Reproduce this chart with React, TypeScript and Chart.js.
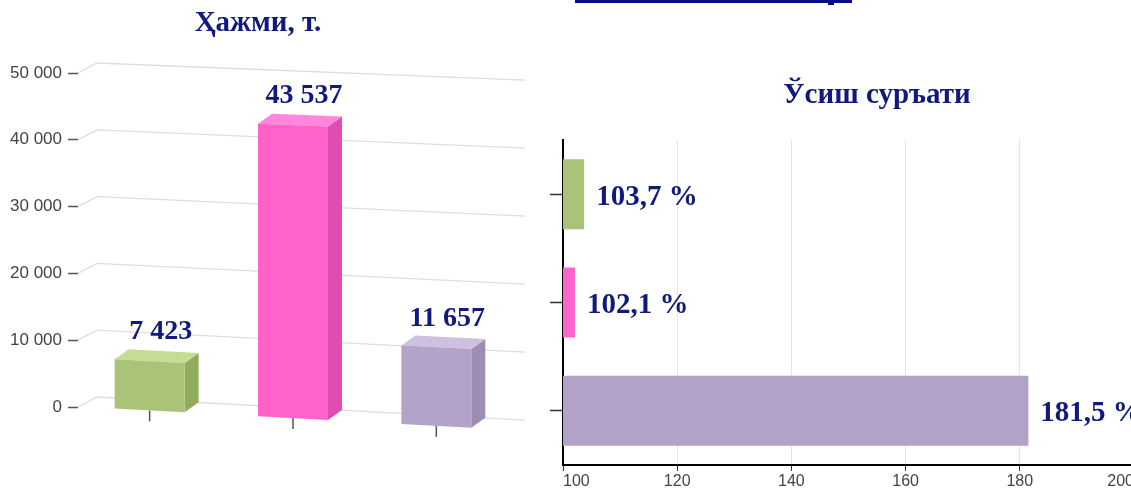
import React, { useEffect, useRef } from 'react';
import { Chart, registerables } from 'chart.js';

Chart.register(...registerables);

// ---------- data ----------
const categories = ['A', 'B', 'C'];
const volumes = [7423, 43537, 11657];
const growth = [103.7, 102.1, 181.5];
const volumeTickValues = [0, 10000, 20000, 30000, 40000, 50000];
const growthTickValues = [100, 120, 140, 160, 180, 200];
const leftTitle = 'Ҳажми, т.';
const rightTitle = 'Ўсиш суръати';

// ---------- styles ----------
const NAVY = '#101a7c';
const FRONT = ['#a9c477', '#ff63c9', '#b3a3c8'];
const TOP = ['#c4dc93', '#ff86da', '#ccc1e1'];
const SIDE = ['#90ac5d', '#e04cb2', '#9d8cb4'];
const FLAT = ['#a9c477', '#ff66cc', '#b2a2c7'];
const SERIF = '"Liberation Serif", "Times New Roman", serif';

const fmtThousands = (v: number) => String(v).replace(/\B(?=(\d{3})+(?!\d))/g, ' ');
const fmtPct = (v: number) => v.toFixed(1).replace('.', ',') + ' %';

const DX = 14;
const DY = -10;
const GDX = 19;
const slope = (v: number) => 0.054 - 0.014 * v / 50000;

const pseudo3d = {
  id: 'pseudo3d',
  beforeDatasetsDraw(chart: any) {
    const { ctx, chartArea, scales } = chart;
    const y = scales.y;
    ctx.save();
    ctx.strokeStyle = '#dedede';
    ctx.lineWidth = 1.3;
    y.ticks.forEach((t: any) => {
      const py = y.getPixelForValue(t.value);
      const s = slope(t.value);
      const x0 = chartArea.left;
      const x1 = x0 + GDX;
      const x2 = chartArea.right + 17;
      ctx.beginPath();
      ctx.moveTo(x0, py);
      ctx.lineTo(x1, py + DY);
      ctx.lineTo(x2, py + DY + s * (x2 - x1));
      ctx.stroke();
    });
    ctx.restore();
  },
  afterDatasetsDraw(chart: any) {
    const { ctx, chartArea } = chart;
    const left = chartArea.left;
    const meta = chart.getDatasetMeta(0);
    const data = chart.data.datasets[0].data as number[];
    ctx.save();
    meta.data.forEach((bar: any, i: number) => {
      const { x, y, base, width } = bar.getProps(['x', 'y', 'base', 'width'], true);
      const v = data[i];
      const sv = slope(v);
      const s0 = slope(0);
      const L = x - width / 2;
      const R = x + width / 2;
      const yTop = (xx: number) => y + sv * (xx - left);
      const yBot = (xx: number) => base + s0 * (xx - left);
      // tick mark below bar
      ctx.strokeStyle = '#555';
      ctx.lineWidth = 1.5;
      ctx.beginPath();
      ctx.moveTo(x, yBot(x));
      ctx.lineTo(x, yBot(x) + 11);
      ctx.stroke();
      // side
      ctx.fillStyle = SIDE[i];
      ctx.beginPath();
      ctx.moveTo(R, yTop(R));
      ctx.lineTo(R + DX, yTop(R) + DY);
      ctx.lineTo(R + DX, yBot(R) + DY);
      ctx.lineTo(R, yBot(R));
      ctx.closePath();
      ctx.fill();
      // top
      ctx.fillStyle = TOP[i];
      ctx.beginPath();
      ctx.moveTo(L, yTop(L));
      ctx.lineTo(L + DX, yTop(L) + DY);
      ctx.lineTo(R + DX, yTop(R) + DY);
      ctx.lineTo(R, yTop(R));
      ctx.closePath();
      ctx.fill();
      // front
      ctx.fillStyle = FRONT[i];
      ctx.beginPath();
      ctx.moveTo(L, yTop(L));
      ctx.lineTo(R, yTop(R));
      ctx.lineTo(R, yBot(R));
      ctx.lineTo(L, yBot(L));
      ctx.closePath();
      ctx.fill();
      // value label
      ctx.fillStyle = NAVY;
      ctx.font = 'bold 28px ' + SERIF;
      ctx.textAlign = 'center';
      ctx.textBaseline = 'middle';
      ctx.fillText(fmtThousands(v), x + 11, yTop(x) + DY - 19);
    });
    ctx.restore();
  },
  afterDraw(chart: any) {
    const { ctx } = chart;
    ctx.save();
    ctx.fillStyle = NAVY;
    ctx.font = 'bold 29px ' + SERIF;
    ctx.textAlign = 'center';
    ctx.textBaseline = 'middle';
    ctx.fillText(leftTitle, 258, 24);
    ctx.restore();
  },
};

const rightLabels = {
  id: 'rightLabels',
  afterDatasetsDraw(chart: any) {
    const { ctx } = chart;
    const meta = chart.getDatasetMeta(0);
    const data = chart.data.datasets[0].data as number[];
    ctx.save();
    ctx.fillStyle = NAVY;
    ctx.font = 'bold 29px ' + SERIF;
    ctx.textAlign = 'left';
    ctx.textBaseline = 'middle';
    meta.data.forEach((bar: any, i: number) => {
      const { x, y } = bar.getProps(['x', 'y'], true);
      ctx.fillText(fmtPct(data[i]), x + 12, y + 3);
    });
    ctx.restore();
  },
  afterDraw(chart: any) {
    const { ctx } = chart;
    ctx.save();
    ctx.fillStyle = NAVY;
    ctx.font = 'bold 29px ' + SERIF;
    ctx.textAlign = 'center';
    ctx.textBaseline = 'middle';
    ctx.fillText(rightTitle, 337, 96);
    ctx.restore();
  },
};

export default function App() {
  const leftRef = useRef<HTMLCanvasElement>(null);
  const rightRef = useRef<HTMLCanvasElement>(null);

  useEffect(() => {
    Chart.defaults.font.family = '"Liberation Sans", Arial, sans-serif';
    const left = new Chart(leftRef.current!, {
      type: 'bar',
      data: {
        labels: categories,
        datasets: [
          {
            data: volumes,
            backgroundColor: 'rgba(0,0,0,0)',
            borderWidth: 0,
            barPercentage: 0.488,
            categoryPercentage: 1,
          },
        ],
      },
      options: {
        responsive: false,
        animation: false,
        layout: { padding: { top: 73, bottom: 83, left: 0, right: 52 } },
        plugins: { legend: { display: false }, tooltip: { enabled: false }, title: { display: false } },
        scales: {
          x: { display: false },
          y: {
            min: 0,
            max: 50000,
            afterBuildTicks: (s: any) => {
              s.ticks = volumeTickValues.map((v) => ({ value: v }));
            },
            afterFit: (s: any) => {
              s.width = 78;
            },
            border: { display: false },
            grid: { drawOnChartArea: false, drawTicks: true, tickLength: 10, tickColor: '#555', tickWidth: 1.5 },
            ticks: {
              padding: 6,
              color: '#444',
              font: { size: 17 },
              callback: (v: any) => fmtThousands(Number(v)),
            },
          },
        },
      },
      plugins: [pseudo3d],
    });

    const right = new Chart(rightRef.current!, {
      type: 'bar',
      data: {
        labels: categories,
        datasets: [
          {
            data: growth,
            backgroundColor: FLAT,
            borderWidth: 0,
            barPercentage: 0.646,
            categoryPercentage: 1,
          },
        ],
      },
      options: {
        indexAxis: 'y',
        responsive: false,
        animation: false,
        layout: { padding: { top: 140, bottom: 0, left: 0, right: 26 } },
        plugins: { legend: { display: false }, tooltip: { enabled: false }, title: { display: false } },
        scales: {
          x: {
            min: 100,
            max: 200,
            afterBuildTicks: (s: any) => {
              s.ticks = growthTickValues.map((v) => ({ value: v }));
            },
            afterFit: (s: any) => {
              s.height = 25;
            },
            border: { display: true, color: '#000', width: 2 },
            grid: { color: '#e4e4e4', lineWidth: 1, tickColor: '#333', tickLength: 6 },
            ticks: { padding: 1, align: 'inner', color: '#444', font: { size: 16 } },
          },
          y: {
            afterFit: (s: any) => {
              s.width = 23;
            },
            border: { display: true, color: '#000', width: 2 },
            grid: { drawOnChartArea: false, offset: false, tickColor: '#333', tickLength: 13, tickWidth: 1.5 },
            ticks: { callback: () => '' },
          },
        },
      },
      plugins: [rightLabels],
    });

    return () => {
      left.destroy();
      right.destroy();
    };
  }, []);

  return (
    <div
      style={{
        position: 'absolute',
        left: 0,
        top: 0,
        width: 1131,
        height: 490,
        overflow: 'hidden',
        background: '#fff',
      }}
    >
      <div style={{ position: 'absolute', left: 575, top: 0, width: 277, height: 3, background: '#0a0a8c' }} />
      <div style={{ position: 'absolute', left: 828, top: 0, width: 6, height: 5, background: '#0a0a8c' }} />
      <canvas
        ref={leftRef}
        width={560}
        height={490}
        style={{ position: 'absolute', left: 0, top: 0, width: 560, height: 490 }}
      />
      <canvas
        ref={rightRef}
        width={620}
        height={490}
        style={{ position: 'absolute', left: 540, top: 0, width: 620, height: 490 }}
      />
    </div>
  );
}
